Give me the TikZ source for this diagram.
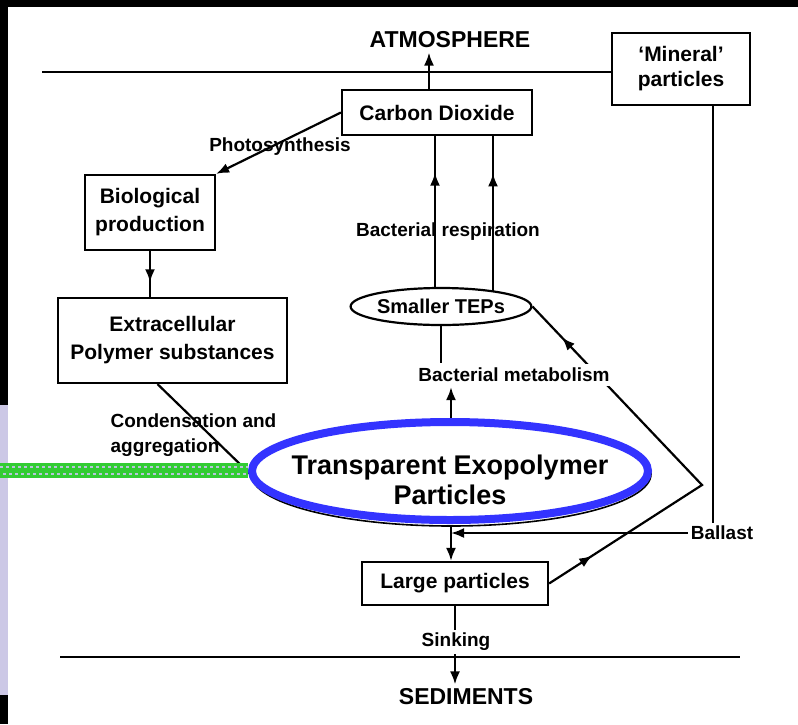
\documentclass[tikz,border=0pt]{standalone}
\usepackage{fontspec}
\setmainfont{Liberation Sans}
\usetikzlibrary{shapes.geometric,arrows.meta,decorations.markings,calc}
\definecolor{tepblue}{HTML}{3333FF}
\definecolor{bargreen}{HTML}{33CC33}
\definecolor{bardots}{HTML}{B8C4DC}
\definecolor{sidelav}{HTML}{CCC8E6}

\begin{document}
\begin{tikzpicture}[x=1pt,y=-1pt,line width=2.2pt,
  lbl/.style={font=\fontsize{19}{25}\selectfont\bfseries,inner sep=2pt},
  tbox/.style={draw,font=\fontsize{21}{28}\selectfont\bfseries,align=center,inner sep=0pt},
  big/.style={font=\fontsize{23}{26}\selectfont\bfseries},
  tip/.style={-{Latex[length=13pt,width=10pt]}},
  midtip/.style={postaction={decorate},decoration={markings,
    mark=at position #1 with {\arrow{Latex[length=13pt,width=10pt]}}}}]
\useasboundingbox (0,0) rectangle (798,724);
\fill[white] (0,0) rectangle (798,724);
\fill[black] (0,0) rectangle (798,7);
\fill[black] (0,0) rectangle (8,405);
\fill[sidelav] (0,405) rectangle (8,695);
\fill[black] (0,695) rectangle (8,724);
%
\draw (450,40) node[big] (atm) {ATMOSPHERE};
\draw (437,112.5) node[tbox,minimum width=190,minimum height=45] (co2) {Carbon Dioxide};
\draw (681,69) node[tbox,minimum width=138,minimum height=72,font=\fontsize{21}{25}\selectfont\bfseries] (mineral) {`Mineral'\\particles};
\draw (150,212.5) node[tbox,minimum width=130,minimum height=75] (bio) {Biological\\production};
\draw (172.5,340.5) node[tbox,minimum width=229,minimum height=85] (eps) {Extracellular\\Polymer substances};
\draw (441,306.5) node[ellipse,draw,inner sep=0pt,minimum width=178,minimum height=37,
  font=\fontsize{20}{22}\selectfont\bfseries] (small) {Smaller TEPs};
\draw (451,474) node[ellipse,draw,line width=1.6pt,minimum width=400,minimum height=104] (tep) {};
\draw (455,583.5) node[tbox,minimum width=186,minimum height=43] (large) {Large particles};
\draw (466,697) node[big] (sed) {SEDIMENTS};
%
\draw (280,147) node[lbl] (photo) {Photosynthesis};
\draw (448,232) node[lbl] (resp) {Bacterial respiration};
\draw (193.5,435) node[lbl,align=left] (cond) {Condensation and\\aggregation};
\draw (456,642) node[lbl] (sink) {Sinking};
\draw (722,533) node[lbl] (ballast) {Ballast};
%
\coordinate (atmL) at (42,72);
\draw (atmL) -- (atmL -| mineral.west);
\coordinate (sedL) at (60,657);
\coordinate (sedR) at (740,657);
\draw (sedL) -- (sedR);
%
\draw[tip] ([xshift=-8pt]co2.north) -- ([xshift=-8pt]co2.north |- atm.south);
\draw[tip] (co2.west) -- (bio.north east);
\draw[midtip=0.68] (bio.south) -- (bio.south |- eps.north);
%
\coordinate (r1) at ($(small.center)+(-6,-18)$);
\coordinate (r2) at ($(small.center)+(52,-15)$);
\draw[midtip=0.76] (r1) -- (r1 |- co2.south);
\draw[midtip=0.76] (r2) -- (r2 |- co2.south);
%
\coordinate (vtx) at (702,485);
\draw[postaction={decorate},decoration={markings,
  mark=at position 0.12 with {\arrow{Latex[length=13pt,width=10pt]}},
  mark=at position 0.9 with {\arrow{Latex[length=13pt,width=10pt]}}}]
  (large.east) -- (vtx) -- (small.east);
\draw (514,375) node[lbl,fill=white,inner sep=4pt] (metab) {Bacterial metabolism};
\draw (small.south) -- (small.south |- metab.north);
\draw[tip] (tep.north) -- (tep.north |- metab.south);
%
\draw ([xshift=-15pt]eps.south) -- (tep.west);
\fill[bargreen] (0,463) rectangle (248,478);
\draw[bardots,line width=2pt,dash pattern=on 3pt off 3pt] (0,467) -- (248,467);
\draw[bardots,line width=2pt,dash pattern=on 3pt off 3pt] (3,474) -- (248,474);
\draw[tepblue,line width=8pt] (tep.center) ++(-1,-3) ellipse [x radius=198pt,y radius=49pt];
\draw (450,480) node[font=\fontsize{27}{30}\selectfont\bfseries,align=center] (teplbl) {Transparent Exopolymer\\Particles};
%
\draw[tip] (tep.south) -- (tep.south |- large.north);
\draw[tip] (ballast.west) -- (ballast.west -| tep.south);
\draw ([xshift=-9pt]ballast.north) -- ([xshift=-9pt]ballast.north |- mineral.south);
\draw (large.south) -- (large.south |- sink.north);
\draw[tip] (large.south |- sink.south) -- (large.south |- sed.north);
\end{tikzpicture}
\end{document}
